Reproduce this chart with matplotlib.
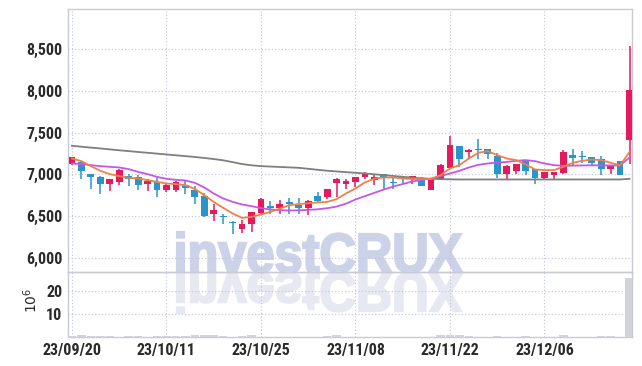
import matplotlib
matplotlib.use("Agg")
import matplotlib.pyplot as plt
from matplotlib import font_manager
from matplotlib.textpath import TextPath
from matplotlib.patches import PathPatch
from matplotlib.font_manager import FontProperties
from matplotlib.transforms import Affine2D

# daily candles (KRW)
opens = [7130, 7150, 7005, 6970, 6885, 6905, 6985, 6975, 6885, 6910,
         6810, 6815, 6875, 6815, 6745, 6520, 6500, 6425, 6345, 6405,
         6540, 6620, 6600, 6665, 6630, 6600, 6740, 6725, 6900, 6885,
         6910, 6965, 6935, 7005, 6910, 6960, 6950, 6945, 6815, 6950,
         7080, 7340, 7270, 7300, 7305, 7225, 7000, 7045, 7160, 7060,
         6960, 6990, 7020, 7230, 7215, 7210, 7190, 7065, 7160, 7410]
highs = [7215, 7165, 7010, 6985, 6950, 7060, 7000, 6990, 6950, 6960,
         6880, 6920, 6930, 6860, 6780, 6640, 6530, 6440, 6450, 6550,
         6715, 6680, 6690, 6720, 6720, 6690, 6790, 6830, 6955, 6950,
         6975, 7035, 6990, 7010, 6960, 6975, 6985, 6965, 6960, 7130,
         7460, 7345, 7310, 7420, 7310, 7260, 7110, 7125, 7165, 7065,
         7035, 7030, 7290, 7300, 7280, 7215, 7220, 7115, 7165, 8545]
lows = [7115, 6940, 6830, 6760, 6800, 6870, 6860, 6810, 6800, 6730,
        6785, 6790, 6765, 6640, 6485, 6445, 6405, 6290, 6295, 6310,
        6530, 6530, 6520, 6530, 6530, 6510, 6660, 6710, 6730, 6830,
        6850, 6940, 6870, 6810, 6830, 6880, 6880, 6860, 6810, 6945,
        7075, 7095, 7190, 7190, 7190, 6960, 6950, 7010, 6990, 6880,
        6940, 6950, 7010, 7100, 7140, 7100, 6995, 7005, 6995, 7125]
closes = [7205, 7045, 6970, 6885, 6945, 7050, 6940, 6875, 6925, 6815,
          6870, 6910, 6840, 6730, 6505, 6570, 6490, 6415, 6405, 6545,
          6705, 6595, 6640, 6645, 6600, 6680, 6680, 6820, 6945, 6925,
          6965, 7005, 6970, 6955, 6895, 6955, 6980, 6865, 6950, 7110,
          7350, 7190, 7295, 7295, 7250, 7010, 7100, 7120, 7045, 6960,
          7030, 7025, 7270, 7200, 7210, 7140, 7065, 7110, 6995, 8010]
volumes = [0.6, 0.7, 0.6, 0.5, 0.6, 0.2, 0.6, 0.6, 0.2, 0.6,
           0.6, 0.6, 0.6, 0.7, 0.9, 0.7, 0.6, 0.2, 0.6, 0.7,
           0.2, 0.2, 0.2, 0.2, 0.2, 0.2, 0.2, 0.6, 0.7, 0.2,
           0.2, 0.2, 0.2, 0.2, 0.2, 0.2, 0.2, 0.2, 0.2, 0.7,
           1.0, 0.7, 0.4, 0.2, 0.2, 0.6, 0.2, 0.2, 0.6, 0.2,
           0.2, 0.2, 0.7, 0.2, 0.2, 0.2, 0.6, 0.6, 0.2, 25.6]

# moving averages as drawn
ma_short = [7192, 7160, 7100, 7044, 7004, 6980, 6960, 6952, 6932, 6911,
            6892, 6884, 6872, 6827, 6752, 6671, 6600, 6532, 6479, 6491,
            6520, 6551, 6592, 6630, 6645, 6655, 6665, 6670, 6704, 6772,
            6832, 6905, 6950, 6964, 6964, 6952, 6945, 6945, 6945, 6992,
            7072, 7112, 7192, 7260, 7280, 7232, 7192, 7172, 7120, 7060,
            7052, 7052, 7092, 7140, 7164, 7180, 7172, 7140, 7108, 7272]
ma_mid = [7132, 7124, 7112, 7100, 7092, 7084, 7064, 7031, 7004, 6971,
          6948, 6935, 6928, 6900, 6844, 6772, 6712, 6671, 6640, 6620,
          6596, 6580, 6572, 6568, 6570, 6575, 6582, 6595, 6615, 6650,
          6700, 6740, 6780, 6820, 6855, 6885, 6915, 6935, 6950, 6980,
          7012, 7044, 7084, 7116, 7132, 7144, 7150, 7164, 7172, 7160,
          7132, 7112, 7104, 7106, 7108, 7110, 7110, 7108, 7108, 7204]
ma_long = [7344, 7333, 7322, 7312, 7301, 7290, 7280, 7270, 7260, 7250,
           7240, 7230, 7220, 7210, 7198, 7185, 7170, 7148, 7125, 7110,
           7100, 7095, 7090, 7085, 7080, 7068, 7056, 7045, 7036, 7028,
           7020, 7012, 7002, 6992, 6982, 6972, 6962, 6954, 6948, 6944,
           6942, 6940, 6940, 6940, 6940, 6940, 6940, 6940, 6940, 6940,
           6940, 6940, 6940, 6940, 6940, 6940, 6940, 6940, 6940, 6948]

date_labels = ['23/09/20', '23/10/11', '23/10/25', '23/11/08', '23/11/22', '23/12/06']
price_ticks = [6000, 6500, 7000, 7500, 8000, 8500]
vol_ticks = [10, 20]

UP = '#e5195e'
DOWN = '#2b95c9'
GRID = '#bfc3da'
SPINE = '#c9cad8'
TXT = '#2a2a2a'

# pick a narrow face if one is installed, else Roboto
names = {f.name for f in font_manager.fontManager.ttflist}
tick_prop = dict(family='Roboto', weight='bold', size=10.5)
for cand in ['Roboto Condensed', 'Liberation Sans Narrow', 'DejaVu Sans Condensed',
             'Open Sans Condensed', 'Noto Sans Condensed']:
    if cand in names:
        tick_prop = dict(family=cand, weight='bold', size=11.5)
        break

fig = plt.figure(figsize=(6.42, 3.66), dpi=100)
ax = fig.add_axes([68 / 642, 94 / 366, 564 / 642, 263 / 366])
axv = fig.add_axes([68 / 642, 29 / 366, 564 / 642, 65 / 366], sharex=ax)
for a in (ax, axv):
    a.set_facecolor('none')

x = list(range(len(closes)))
body_bottom = [min(o, c) for o, c in zip(opens, closes)]
body_height = [max(abs(c - o), 14) for o, c in zip(opens, closes)]
colors = [UP if c >= o else DOWN for o, c in zip(opens, closes)]

ax.vlines(x, lows, highs, colors=colors, linewidth=1.1, zorder=3)
ax.bar(x, body_height, bottom=body_bottom, width=0.72, color=colors, zorder=4)
ax.plot(x, ma_long, color='#7f7f7f', linewidth=1.3, zorder=5)
ax.plot(x, ma_mid, color='#c955e6', linewidth=1.3, zorder=5)
ax.plot(x, ma_short, color='#ee8146', linewidth=1.3, zorder=6)

axv.bar(x, volumes, width=0.9, color='#d3d3dc', zorder=3)

ax.set_xlim(-0.42, 59.26)
ax.set_ylim(5830, 8985)
axv.set_ylim(0, 28.3)

ax.set_yticks(price_ticks)
ax.set_yticklabels([f'{v:,}' for v in price_ticks])
axv.set_yticks(vol_ticks)
axv.set_xticks(range(0, 60, 10))
axv.set_xticklabels(date_labels)
ax.tick_params(axis='x', labelbottom=False)

for a in (ax, axv):
    a.grid(True, linestyle=(0, (1, 2)), color=GRID, linewidth=0.8)
    a.set_axisbelow(True)
    a.tick_params(length=0, colors=TXT, pad=4)
    for lab in a.get_xticklabels() + a.get_yticklabels():
        lab.set_fontfamily(tick_prop['family'])
        lab.set_fontweight(tick_prop['weight'])
        lab.set_fontsize(tick_prop['size'])
    for s in a.spines.values():
        s.set_color(SPINE)
        s.set_linewidth(1.0)

fig.text(31 / 642, 1 - 300 / 366, r'$10^6$', rotation=90, ha='center', va='center',
         fontsize=10, color=TXT)

# watermark with reflection
fp = FontProperties(family='Liberation Sans', weight='bold')
tp = TextPath((0, 0), 'investCRUX', size=100, prop=fp)
ext = tp.get_extents()
sx = 285 / ext.width
sy = 40 / ext.y1
base = Affine2D().translate(-ext.x0, 0)
t_main = base + Affine2D().scale(sx, sy).translate(177, 94).scale(1 / 100) + fig.dpi_scale_trans
t_refl = base + Affine2D().scale(sx, -sy).translate(177, 93).scale(1 / 100) + fig.dpi_scale_trans
fig.add_artist(PathPatch(tp, facecolor='#ccd2e8', edgecolor='#ccd2e8', linewidth=1.6,
                         transform=t_main, zorder=-1))
fig.add_artist(PathPatch(tp, facecolor='#e6e8f2', edgecolor='#e6e8f2', linewidth=1.6,
                         transform=t_refl, zorder=-1))

fig.savefig('out.png', dpi=100, facecolor='white')
